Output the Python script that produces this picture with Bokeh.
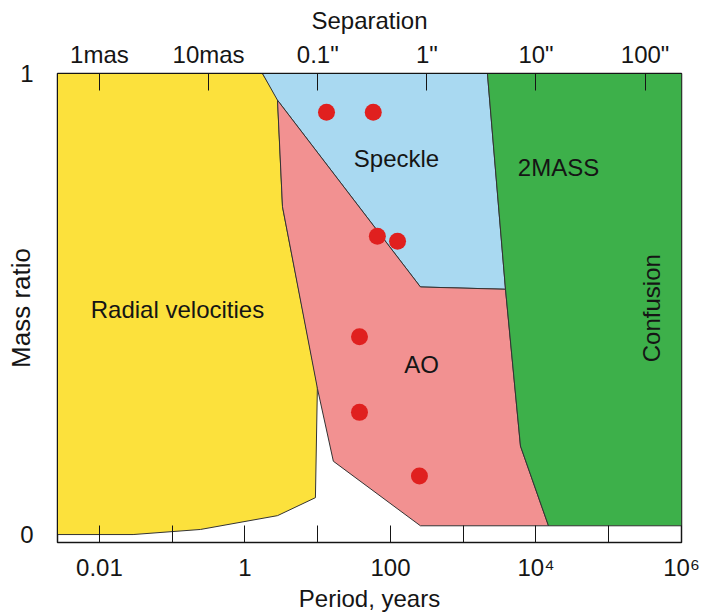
from bokeh.plotting import figure
from bokeh.models import Range1d, LogAxis, FixedTicker, ColumnDataSource
from bokeh.embed import file_html
from bokeh.resources import INLINE
from bokeh.core.properties import value

# ---------------- data ----------------
# bottom axis: orbital period in years (log)
period_ticks = [0.01, 1, 100, 10000, 1000000]
period_tick_labels = ["0.01", "1", "100", "10\u2074", "10\u2076"]
period_minor_ticks = [0.1, 10, 1000, 100000]

# top axis: angular separation, placed at the equivalent period
sep_tick_periods = [10 ** -2, 10 ** -0.5, 10 ** 1, 10 ** 2.5, 10 ** 4, 10 ** 5.5]
sep_tick_labels = ["1mas", "10mas", '0.1"', '1"', '10"', '100"']

mass_ratio_ticks = [0, 1]

# regions (period in years, mass ratio)
rv_period = [0.00265, 1.74, 2.80, 3.28, 9.9, 9.3, 2.8, 0.244, 0.029, 0.00265]
rv_q = [1.0, 1.0, 0.946, 0.711, 0.323, 0.080, 0.041, 0.011, 0.0, 0.0]

speckle_period = [1.74, 2150, 3810, 258, 2.80]
speckle_q = [1.0, 1.0, 0.532, 0.537, 0.942]

ao_period = [2.80, 3.28, 9.9, 16.4, 258, 14860, 6120, 3810, 258]
ao_q = [0.942, 0.711, 0.317, 0.159, 0.019, 0.019, 0.192, 0.532, 0.537]

twomass_period = [2150, 1000000, 1000000, 14860, 6120, 3810]
twomass_q = [1.0, 1.0, 0.019, 0.019, 0.192, 0.532]

# observed binaries
star_period = [13.2, 58, 66, 125, 37.5, 37.5, 250]
star_q = [0.916, 0.916, 0.647, 0.636, 0.429, 0.265, 0.127]

# region names
region_names = ["Radial velocities", "Speckle", "AO", "2MASS", "Confusion"]
region_label_period = [0.118, 121, 267, 20400, 387000]
region_label_q = [0.489, 0.815, 0.369, 0.797, 0.491]
region_label_angle = [0, 0, 0, 0, 90]

# ---------------- figure ----------------
FONT = "Liberation Sans"
INK = "#151515"

p = figure(width=719, height=614, x_axis_type="log",
           x_range=Range1d(0.00265, 1000000), y_range=Range1d(-0.01724, 1.0),
           output_backend="svg", toolbar_location=None,
           min_border_left=57, min_border_right=38,
           min_border_top=73, min_border_bottom=69)
p.xgrid.visible = False
p.ygrid.visible = False
p.outline_line_color = "#222222"
p.outline_line_width = 1.5
p.background_fill_color = "white"
p.border_fill_color = "white"

p.patch(rv_period, rv_q, fill_color="#FCE13C", line_color="#333333", line_width=1)
p.patch(speckle_period, speckle_q, fill_color="#A9D9F1", line_color="#333333", line_width=1)
p.patch(ao_period, ao_q, fill_color="#F29191", line_color="#333333", line_width=1)
p.patch(twomass_period, twomass_q, fill_color="#3DB04A", line_color="#333333", line_width=1)

p.scatter(star_period, star_q, size=17, fill_color="#E0201F", line_color=None)

lab = ColumnDataSource(dict(x=region_label_period, y=region_label_q,
                            t=region_names, a=region_label_angle))
p.text(x="x", y="y", text="t", angle="a", angle_units="deg", source=lab,
       text_font=value(FONT), text_font_size="24px", text_color=INK,
       text_align="center", text_baseline="middle")

# bottom axis
xa = p.xaxis[0]
xa.ticker = FixedTicker(ticks=period_ticks, minor_ticks=period_minor_ticks)
xa.major_label_overrides = dict(zip(period_ticks, period_tick_labels))
xa.major_tick_in = 17
xa.major_tick_out = 0
xa.minor_tick_in = 17
xa.minor_tick_out = 0
xa.major_tick_line_color = INK
xa.minor_tick_line_color = INK
xa.axis_line_color = INK
xa.major_label_text_font = FONT
xa.major_label_text_font_size = "24px"
xa.major_label_text_color = INK
xa.major_label_standoff = 11
xa.axis_label = "Period, years"
xa.axis_label_text_font = FONT
xa.axis_label_text_font_size = "24px"
xa.axis_label_text_font_style = "normal"
xa.axis_label_text_color = INK
xa.axis_label_standoff = 1

# top axis
ta = LogAxis(ticker=FixedTicker(ticks=sep_tick_periods, minor_ticks=[]),
             major_label_overrides=dict(zip(sep_tick_periods, sep_tick_labels)))
ta.major_tick_in = 17
ta.major_tick_out = 0
ta.minor_tick_in = 0
ta.minor_tick_out = 0
ta.major_tick_line_color = INK
ta.axis_line_color = INK
ta.major_label_text_font = FONT
ta.major_label_text_font_size = "24px"
ta.major_label_text_color = INK
ta.major_label_standoff = 6
ta.axis_label = "Separation"
ta.axis_label_text_font = FONT
ta.axis_label_text_font_size = "24px"
ta.axis_label_text_font_style = "normal"
ta.axis_label_text_color = INK
ta.axis_label_standoff = 4
p.add_layout(ta, "above")

# left axis
ya = p.yaxis[0]
ya.ticker = FixedTicker(ticks=mass_ratio_ticks, minor_ticks=[])
ya.major_tick_in = 0
ya.major_tick_out = 0
ya.minor_tick_in = 0
ya.minor_tick_out = 0
ya.axis_line_color = INK
ya.major_label_text_font = FONT
ya.major_label_text_font_size = "24px"
ya.major_label_text_color = INK
ya.major_label_standoff = 24
ya.axis_label = "Mass ratio"
ya.axis_label_text_font = FONT
ya.axis_label_text_font_size = "26px"
ya.axis_label_text_font_style = "normal"
ya.axis_label_text_color = INK
ya.axis_label_standoff = -19

open("out.html", "w").write(file_html(p, INLINE))
